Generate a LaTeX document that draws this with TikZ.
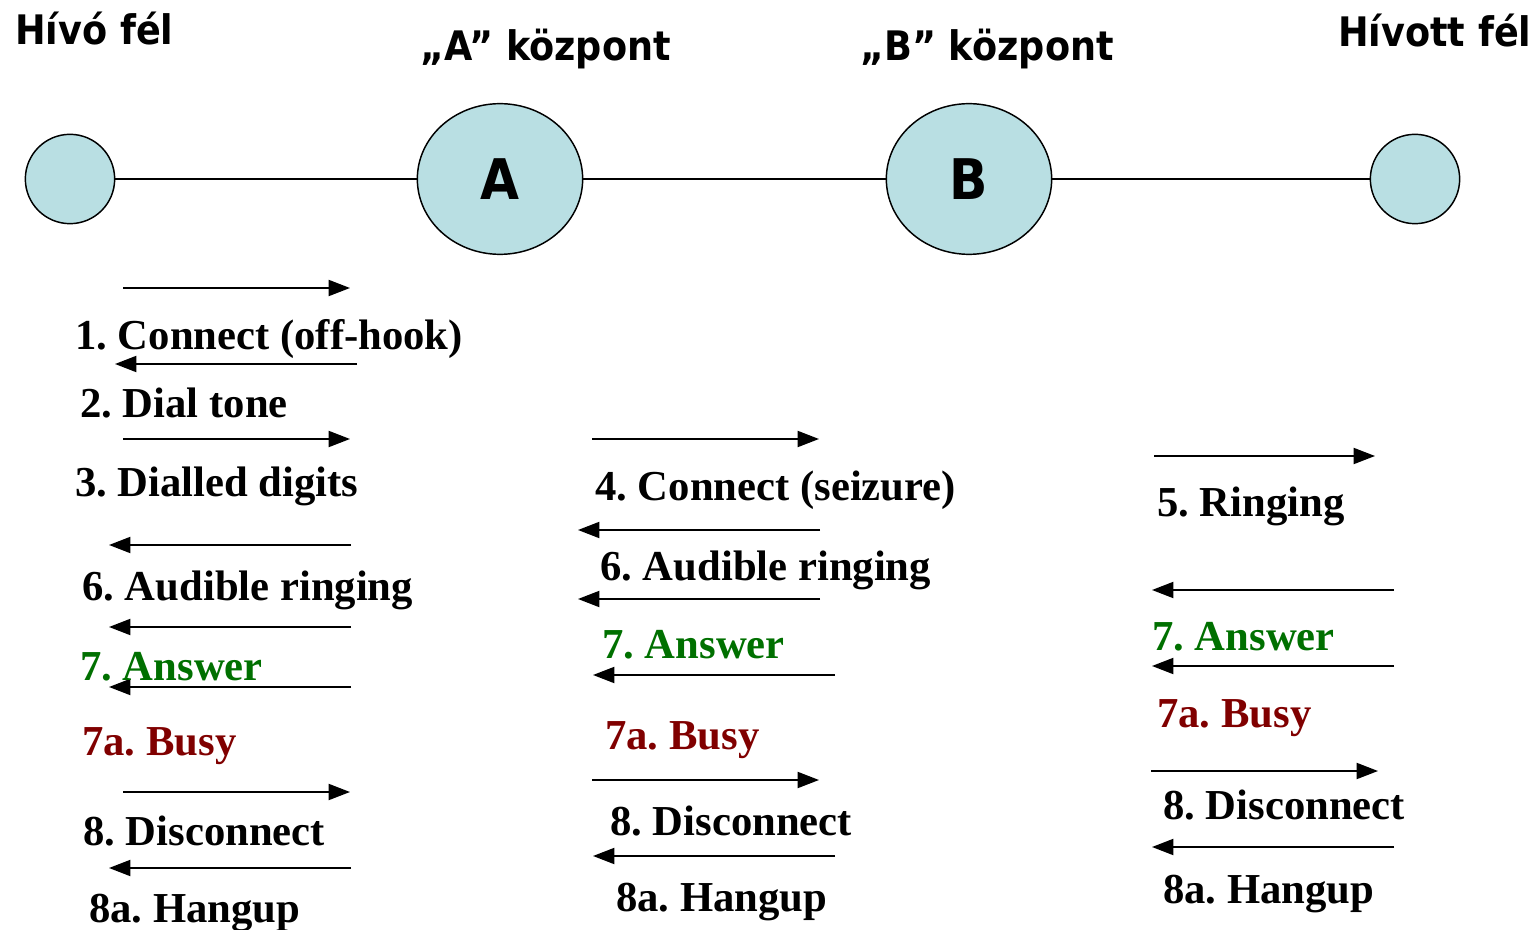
\documentclass[tikz,border=0pt]{standalone}
\usepackage{fontspec}
\setmainfont{Liberation Serif}
\newfontfamily\headfont[FakeStretch=0.9]{DejaVu Sans}
\usepackage{tikz}
\usetikzlibrary{arrows.meta,shapes.geometric}
\frenchspacing

\definecolor{stationfill}{RGB}{185,223,227}
\definecolor{answergreen}{RGB}{0,112,0}
\definecolor{busyred}{RGB}{128,0,0}

\begin{document}
\begin{tikzpicture}[x=0.75pt,y=-0.75pt,
  station/.style={circle,draw,line width=1.1pt,fill=stationfill,inner sep=0pt,minimum size=67pt},
  exchange/.style={ellipse,draw,line width=1.1pt,fill=stationfill,inner sep=0pt,
    minimum width=124pt,minimum height=113pt,font=\headfont\bfseries\fontsize{42}{44}\selectfont},
  head/.style={anchor=base west,inner sep=0pt,font=\headfont\bfseries\fontsize{30.5}{34}\selectfont},
  lab/.style={anchor=base west,inner sep=0pt,font=\bfseries\fontsize{32}{36}\selectfont},
  msg/.style={line width=1.4pt,-{Triangle[length=16pt,width=12pt]}}]
  \useasboundingbox (0,0) rectangle (1532,930);

  % the four parties along the line
  \node[head] (hcaller) at (15,45) {Hívó fél};
  \node[head] (hA) at (420,61) {„A” központ};
  \node[head] (hB) at (860,61) {„B” központ};
  \node[head] (hcalled) at (1338,47) {Hívott fél};

  \node[station] (caller) at (70,179) {};
  \node[exchange] (A) at (500,179) {A};
  \node[exchange] (B) at (969,179) {B};
  \node[station] (called) at (1415,179) {};
  \draw[line width=1.1pt] (caller) -- (A) -- (B) -- (called);

  % caller <-> exchange A
  \foreach \i/\y/\xa/\xb in {1/288/123/350, 2/364/357/115, 3/439/123/350, 4/545/351/109,
                             5/627/351/109, 6/687/351/109, 7/792/123/350, 8/868/351/109}
  {
    \coordinate (ls\i) at (\xa,\y);
    \coordinate (le\i) at (\xb,\y);
    \draw[msg] (ls\i) -- (le\i);
  }
  \node[lab] (l1) at (75,350) {1. Connect (off-hook)};
  \node[lab] (l2) at (80,418) {2. Dial tone};
  \node[lab] (l3) at (75,497) {3. Dialled digits};
  \node[lab] (l6) at (82,600) {6. Audible ringing};
  \node[lab,answergreen] (l7) at (80,680) {7. Answer};
  \node[lab,busyred] (l7a) at (82,755) {7a. Busy};
  \node[lab] (l8) at (83,845) {8. Disconnect};
  \node[lab] (l8a) at (89,922) {8a. Hangup};

  % exchange A <-> exchange B
  \foreach \i/\y/\xa/\xb in {1/439/592/819, 2/530/820/578, 3/599/820/578,
                             4/675/835/593, 5/780/592/819, 6/856/835/593}
  {
    \coordinate (ms\i) at (\xa,\y);
    \coordinate (me\i) at (\xb,\y);
    \draw[msg] (ms\i) -- (me\i);
  }
  \node[lab] (m4) at (595,501) {4. Connect (seizure)};
  \node[lab] (m6) at (600,580) {6. Audible ringing};
  \node[lab,answergreen] (m7) at (602,658) {7. Answer};
  \node[lab,busyred] (m7a) at (605,749) {7a. Busy};
  \node[lab] (m8) at (610,835) {8. Disconnect};
  \node[lab] (m8a) at (616,911) {8a. Hangup};

  % exchange B <-> called party
  \foreach \i/\y/\xa/\xb in {1/456/1154/1375, 2/590/1394/1152, 3/666/1394/1152,
                             4/771/1151/1378, 5/847/1394/1152}
  {
    \coordinate (rs\i) at (\xa,\y);
    \coordinate (re\i) at (\xb,\y);
    \draw[msg] (rs\i) -- (re\i);
  }
  \node[lab] (r5) at (1157,517) {5. Ringing};
  \node[lab,answergreen] (r7) at (1152,650) {7. Answer};
  \node[lab,busyred] (r7a) at (1157,727) {7a. Busy};
  \node[lab] (r8) at (1163,819) {8. Disconnect};
  \node[lab] (r8a) at (1163,903) {8a. Hangup};
\end{tikzpicture}
\end{document}
